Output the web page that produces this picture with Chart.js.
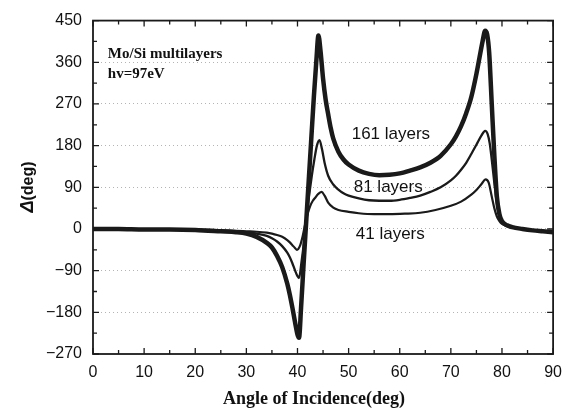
<!DOCTYPE html>
<html>
<head>
<meta charset="utf-8">
<script src="https://cdn.jsdelivr.net/npm/chart.js@4/dist/chart.umd.min.js"></script>
<style>
  html, body { margin: 0; padding: 0; background: #fff; }
</style>
</head>
<body>
<canvas id="deltaChart" width="571" height="412"></canvas>
<script>
// Phase retardation vs angle of incidence for Mo/Si stacks of different thickness
const angles161 = [0, 5, 10, 15, 20, 25, 28, 30, 32, 34, 35, 36, 37, 38, 38.5, 39, 39.5, 40, 40.3, 40.7,
  41.2, 41.7, 42.2, 42.7, 43.2, 43.7, 44.1, 44.5, 45, 45.5, 46, 46.5, 47, 48, 49, 50, 52, 54, 56, 58,
  60, 62, 64, 66, 68, 70, 71, 72, 73, 74, 75, 75.6, 76.2, 76.7, 77.1, 77.5, 78, 78.5, 79, 79.5,
  80, 81, 82, 84, 86, 88, 90];
const delta161 = [0, 0, -1, -1, -2, -5, -7, -10, -17, -30, -40, -58, -82, -118, -142, -170, -200, -228, -235, -170,
  -75, 15, 105, 195, 285, 365, 418, 385, 325, 280, 248, 218, 195, 167, 150, 139, 126, 119, 116, 117,
  120, 126, 133, 143, 158, 183, 200, 222, 250, 285, 335, 370, 405, 428, 420, 380, 270, 160, 70, 32,
  17, 8, 4, 0, -3, -5, -7];

const angles81 = [0, 5, 10, 15, 20, 25, 28, 30, 32, 34, 35, 36, 37, 38, 38.5, 39, 39.5, 40, 40.3, 40.8,
  41.3, 41.8, 42.3, 42.8, 43.3, 43.8, 44.3, 44.8, 45.3, 46, 47, 48, 49, 50, 52, 54, 56, 58, 60, 62,
  64, 66, 68, 70, 71, 72, 73, 74, 75, 76, 76.7, 77.2, 77.6, 78, 78.5, 79, 79.5, 80, 81, 82,
  84, 86, 88, 90];
const delta81 = [0, 0, -1, -1, -2, -4, -5, -7, -10, -15, -20, -27, -37, -51, -61, -74, -89, -102, -106, -70,
  -25, 30, 75, 115, 150, 180, 192, 172, 143, 115, 96, 85, 77, 72, 66, 62, 61, 61, 63, 67,
  72, 80, 90, 105, 115, 128, 143, 162, 182, 202, 212, 205, 185, 150, 100, 55, 28, 16, 8, 4,
  0, -3, -5, -6];

const angles41 = [0, 5, 10, 15, 20, 25, 28, 30, 32, 34, 35, 36, 37, 38, 38.5, 39, 39.5, 39.9, 40.5, 41,
  41.5, 42, 42.5, 43, 43.5, 44, 44.7, 45.3, 46, 47, 48, 50, 52, 55, 58, 61, 64, 67, 70, 72,
  74, 75, 76, 76.8, 77.4, 78, 78.5, 79, 79.5, 80, 81, 82, 84, 86, 88, 90];
const delta41 = [0, 0, -1, -1, -1, -3, -4, -5, -6, -8, -10, -13, -17, -24, -29, -35, -41, -45, -36, -16,
  10, 33, 50, 61, 68, 75, 80, 72, 57, 46, 41, 37, 34, 32, 32, 33, 35, 41, 50, 59,
  74, 84, 97, 107, 100, 70, 45, 27, 17, 11, 6, 3, 0, -3, -5, -6];

const xTicks = [0, 10, 20, 30, 40, 50, 60, 70, 80, 90];
const yTicks = [-270, -180, -90, 0, 90, 180, 270, 360, 450];

const toPoints = (xs, ys) => xs.map((x, i) => ({ x: x, y: ys[i] }));

// frame with inward ticks on all four sides, plus the text inside the plot
const frameAndText = {
  id: 'frameAndText',
  afterDraw(chart) {
    const { ctx, chartArea: a, scales: { x, y } } = chart;
    ctx.save();
    ctx.strokeStyle = '#1a1a1a';
    ctx.lineWidth = 1.8;
    ctx.strokeRect(a.left, a.top, a.right - a.left, a.bottom - a.top);

    ctx.lineWidth = 1.3;
    ctx.beginPath();
    for (let v = 0; v <= 90; v += 5) {
      const px = x.getPixelForValue(v);
      const len = v % 10 === 0 ? 6 : 4;
      ctx.moveTo(px, a.bottom); ctx.lineTo(px, a.bottom - len);
      ctx.moveTo(px, a.top); ctx.lineTo(px, a.top + len);
    }
    for (let v = -270; v <= 450; v += 45) {
      const py = y.getPixelForValue(v);
      const len = v % 90 === 0 ? 6 : 4;
      ctx.moveTo(a.left, py); ctx.lineTo(a.left + len, py);
      ctx.moveTo(a.right, py); ctx.lineTo(a.right - len, py);
    }
    ctx.stroke();

    ctx.fillStyle = '#111';
    ctx.textBaseline = 'alphabetic';
    ctx.textAlign = 'left';
    ctx.font = 'bold 15px "Liberation Serif"';
    ctx.fillText('Mo/Si multilayers', x.getPixelForValue(2.9), y.getPixelForValue(369));
    ctx.fillText('hv=97eV', x.getPixelForValue(2.9), y.getPixelForValue(325));

    ctx.font = '17px "Liberation Sans"';
    ctx.fillText('161 layers', x.getPixelForValue(50.6), y.getPixelForValue(195));
    ctx.fillText('81 layers', x.getPixelForValue(51.0), y.getPixelForValue(80));
    ctx.fillText('41 layers', x.getPixelForValue(51.4), y.getPixelForValue(-21));

    // axis titles
    ctx.textAlign = 'center';
    ctx.font = 'bold 18px "Liberation Serif"';
    ctx.fillText('Angle of Incidence(deg)', 314, 404);

    ctx.translate(33, 187);
    ctx.rotate(-Math.PI / 2);
    ctx.textAlign = 'left';
    ctx.font = 'italic bold 18px "Liberation Sans"';
    const dW = ctx.measureText('Δ').width;
    ctx.font = 'bold 16px "Liberation Sans"';
    const rW = ctx.measureText('(deg)').width;
    const start = -(dW + rW) / 2;
    ctx.font = 'italic bold 18px "Liberation Sans"';
    ctx.fillText('Δ', start, 0);
    ctx.font = 'bold 16px "Liberation Sans"';
    ctx.fillText('(deg)', start + dW, 0);
    ctx.restore();
  }
};

const lineStyle = (w) => ({
  borderColor: '#1a1a1a',
  borderWidth: w,
  pointRadius: 0,
  fill: false,
  cubicInterpolationMode: 'monotone'
});

new Chart(document.getElementById('deltaChart'), {
  type: 'line',
  data: {
    datasets: [
      Object.assign({ label: '41 layers', data: toPoints(angles41, delta41) }, lineStyle(2.2)),
      Object.assign({ label: '81 layers', data: toPoints(angles81, delta81) }, lineStyle(2.3)),
      Object.assign({ label: '161 layers', data: toPoints(angles161, delta161) }, lineStyle(4.5))
    ]
  },
  options: {
    responsive: false,
    animation: false,
    layout: { padding: { top: 15, right: 16, left: 0, bottom: 0 } },
    plugins: { legend: { display: false }, tooltip: { enabled: false } },
    scales: {
      x: {
        type: 'linear',
        min: 0,
        max: 90,
        afterBuildTicks: s => { s.ticks = xTicks.map(v => ({ value: v })); },
        afterFit: s => { s.height = 58; },
        grid: { display: false, drawTicks: false },
        border: { display: false },
        ticks: { color: '#111', font: { family: 'Liberation Sans', size: 16 }, padding: 9, maxRotation: 0 }
      },
      y: {
        type: 'linear',
        min: -270,
        max: 450,
        afterBuildTicks: s => { s.ticks = yTicks.map(v => ({ value: v })); },
        afterFit: s => { s.width = 93; },
        grid: {
          drawTicks: false,
          lineWidth: 1,
          color: c => (c.tick && (c.tick.value === -270 || c.tick.value === 450)) ? 'rgba(0,0,0,0)' : '#b4b4b4'
        },
        border: { display: false, dash: [1, 3] },
        ticks: {
          color: '#111',
          font: { family: 'Liberation Sans', size: 16 },
          padding: 11,
          callback: v => String(v).replace('-', '\u2212')
        }
      }
    }
  },
  plugins: [frameAndText]
});
</script>
</body>
</html>
